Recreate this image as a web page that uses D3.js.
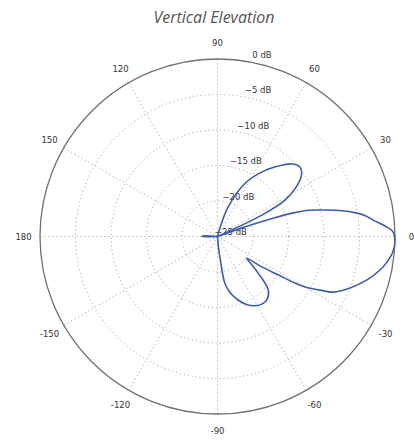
<!DOCTYPE html>
<html><head><meta charset="utf-8">
<script src="https://cdn.jsdelivr.net/npm/d3@7"></script>
<style>html,body{margin:0;padding:0;background:#fff;}</style>
</head><body>
<svg id="chart" width="414" height="443"></svg>
<script>
// pattern data (elevation angle in degrees, gain in dB)
const angles = [-180,-176,-172,-150,-120,-90,-87,-85,-83,-81,-77,-72,-67,-61.5,-56,-52,-46.5,-42,-39,-36.7,-34.5,-32.3,-31,-29.7,-27.6,-25.7,-21.2,-16.2,-11.65,-8.6,-5,-1.1,1.5,3.6,6,7.9,9.5,12,14,16,17.3,18.2,19.3,20.5,22,24,25.8,28.4,32,36,40,44,48,55,62.7,70,74,78,90,120,150,170,175,178];
const gains  = [-22.8,-24.5,-30,-35,-35,-32,-27,-23.5,-21.5,-18.3,-16.8,-15.6,-14.6,-13.9,-13.6,-13.7,-14.6,-17.3,-19,-19.9,-17.5,-14.9,-12.3,-10.5,-8.7,-6.95,-4.98,-3.07,-1.63,-0.86,-0.2,0,-0.27,-1.36,-2.97,-3.9,-5.07,-7.4,-9.6,-11.6,-13.8,-16.5,-20.5,-25.5,-30,-26,-18,-14.2,-12,-10.4,-9.8,-10.3,-11.5,-13.8,-16.6,-20.5,-23.5,-27,-35,-35,-35,-32,-25,-23];
const angleTicks = [0,30,60,90,120,150,180,-150,-120,-90,-60,-30];
const dbTicks = [0,-5,-10,-15,-20,-25];
const title = "Vertical Elevation";

const svg = d3.select("#chart");
const cx = 217.5, cy = 236.5, R = 177.5;
const r = d3.scaleLinear().domain([-25,0]).range([0,R]).clamp(true);
const toRad = d => (90 - d) * Math.PI / 180; // d3 radial: 0 at top, clockwise

const g = svg.append("g").attr("transform",`translate(${cx},${cy})`);

// title
svg.append("text").attr("x",214).attr("y",23).attr("text-anchor","middle")
  .attr("font-family","Open Sans, sans-serif").attr("font-style","italic")
  .attr("font-size",16).attr("fill","#555").text(title);

// grid rings
g.selectAll("circle.ring").data(dbTicks.filter(d=>d>-25 && d<0)).join("circle")
  .attr("r",d=>r(d)).attr("fill","none").attr("stroke","#9a9a9a")
  .attr("stroke-width",1).attr("stroke-dasharray","1,3");
// spokes
g.selectAll("line.spoke").data(angleTicks).join("line")
  .attr("x1",0).attr("y1",0)
  .attr("x2",d=>R*Math.cos(d*Math.PI/180)).attr("y2",d=>-R*Math.sin(d*Math.PI/180))
  .attr("stroke","#9a9a9a").attr("stroke-width",1).attr("stroke-dasharray","1,3");
// outer circle
g.append("circle").attr("r",r(0)).attr("fill","none").attr("stroke","#707070").attr("stroke-width",1.3);

// angle labels
g.selectAll("text.ang").data(angleTicks).join("text")
  .attr("x",d=>194*Math.cos(d*Math.PI/180)).attr("y",d=>-194*Math.sin(d*Math.PI/180))
  .attr("text-anchor","middle").attr("dominant-baseline","central")
  .attr("font-family","DejaVu Sans, sans-serif").attr("font-size",8.5).attr("fill","#333")
  .text(d=>d);

// dB labels
g.selectAll("text.db").data(dbTicks).join("text")
  .attr("x",d=>-2.5 + 0.21*r(d)).attr("y",d=>-r(d)-1.5)
  .attr("font-family","DejaVu Sans, sans-serif").attr("font-size",8.5).attr("fill","#333")
  .text(d=>d===0 ? "0 dB" : "\u2212"+Math.abs(d)+" dB");

// pattern
const pts = angles.map((a,i)=>[toRad(a), r(gains[i])]);
const line = d3.lineRadial().angle(d=>d[0]).radius(d=>d[1]).curve(d3.curveCatmullRomClosed.alpha(0.5));
g.append("path").attr("d",line(pts)).attr("fill","none")
  .attr("stroke","#3b5cb4").attr("stroke-width",1.6).attr("stroke-linejoin","round");
</script>
</body></html>
